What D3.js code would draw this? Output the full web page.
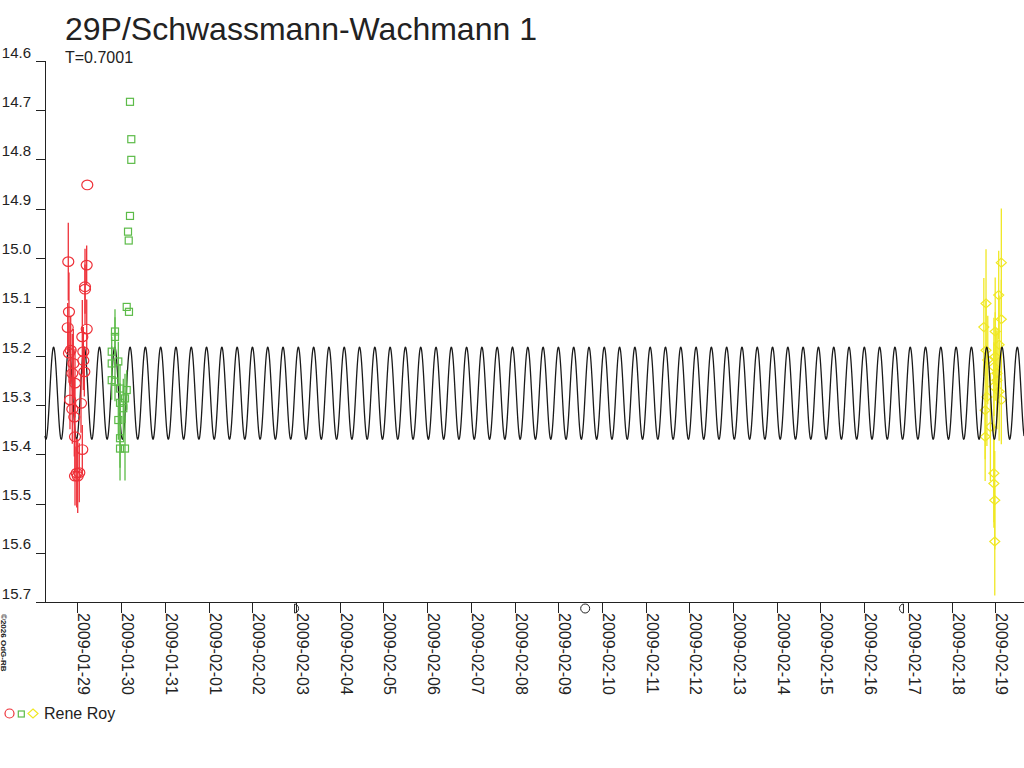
<!DOCTYPE html>
<html>
<head>
<meta charset="utf-8">
<script src="https://cdn.jsdelivr.net/npm/d3@7"></script>
<style>
  body { margin: 0; background: #fff; }
  svg { display: block; font-family: "Liberation Sans", Arial, sans-serif; }
</style>
</head>
<body>
<div class="chart"></div>
<script>
// observation times: days after 2009-01-29 00:00 UT
var redT   = [0.224, -0.211, 0.21, 0.172, 0.172, -0.195, -0.224, 0.211, 0.110, -0.156, -0.195, 0.133, 0.133, 0.156,
              -0.096, -0.119, -0.057, -0.172, -0.119, 0.080, -0.073, -0.057, 0.110, -0.018, 0.041, 0.005, -0.057]
var redMag = [14.852, 15.008, 15.015, 15.059, 15.064, 15.110, 15.142, 15.145, 15.161, 15.188, 15.194, 15.191, 15.209, 15.232,
              15.215, 15.235, 15.255, 15.289, 15.308, 15.296, 15.324, 15.364, 15.390, 15.438, 15.437, 15.444, 15.444]
var redErr = [0, 0.079, 0.04, 0.077, 0.05, 0.08, 0.05, 0.06, 0.075, 0.07, 0.06, 0.05, 0.06, 0.05,
              0.07, 0.08, 0.07, 0.06, 0.07, 0.06, 0.08, 0.07, 0.05, 0.07, 0.06, 0.075, 0.06]

var greenT   = [1.201, 1.231, 1.231, 1.201, 1.156, 1.172, 1.126, 1.178,
                0.858, 0.858, 0.783, 0.934, 0.783, 0.783, 0.858, 0.973, 1.126, 1.087, 0.973, 1.048, 0.934, 0.973, 0.973, 1.087]
var greenMag = [14.683, 14.759, 14.801, 14.915, 14.947, 14.965, 15.100, 15.110,
                15.150, 15.161, 15.191, 15.211, 15.215, 15.249, 15.252, 15.266, 15.269, 15.286, 15.295, 15.306, 15.330, 15.367, 15.388, 15.388]
var greenErr = [0, 0, 0, 0, 0, 0, 0, 0,
                0.045, 0.04, 0.03, 0.04, 0.035, 0.04, 0.04, 0.05, 0.04, 0.05, 0.04, 0.06, 0.04, 0.06, 0.065, 0.065]

var yellowT   = [21.14, 21.08, 20.79, 21.14, 20.74, 21.00, 20.79, 21.00, 20.97, 21.04, 21.09, 20.83,
                 21.04, 20.97, 21.09, 20.81, 21.14, 20.77, 20.89, 20.77, 20.97, 20.97, 20.99, 20.99]
var yellowMag = [15.010, 15.076, 15.093, 15.125, 15.141, 15.150, 15.188, 15.201, 15.222, 15.235, 15.177, 15.208,
                 15.249, 15.262, 15.272, 15.283, 15.289, 15.310, 15.344, 15.364, 15.438, 15.459, 15.493, 15.577]
var yellowErr = [0.11, 0.09, 0.11, 0.08, 0.10, 0.11, 0.10, 0.09, 0.10, 0.09, 0.10, 0.09,
                 0.10, 0.09, 0.10, 0.10, 0.09, 0.10, 0.11, 0.09, 0.10, 0.09, 0.10, 0.11]

// moon phases
var moonDates = ["2009-02-02T23:13Z", "2009-02-09T14:49Z", "2009-02-16T21:37Z"]
var moonKinds = ["first", "full", "last"]

var yTicks = [14.6, 14.7, 14.8, 14.9, 15.0, 15.1, 15.2, 15.3, 15.4, 15.5, 15.6, 15.7]

// lightcurve model
var period = 0.7001        // days, double-peaked
var waveMean = 15.2755, waveAmp = 0.0935, waveEpoch = 7.854

var width = 1024, height = 768
var ink = "#222"
var base = Date.UTC(2009, 0, 29)
var toDate = t => new Date(base + t * 864e5)

var x = d3.scaleUtc()
  .domain([toDate(-0.7437), toDate(21.659)])
  .range([45, 1024])
var y = d3.scaleLinear()
  .domain([14.6, 15.7])
  .range([61, 602])

var svg = d3.select(".chart").append("svg")
  .attr("width", width)
  .attr("height", height)

// title
svg.append("text").attr("x", 65).attr("y", 39.5)
  .style("font-size", "32px").attr("fill", ink)
  .text("29P/Schwassmann-Wachmann 1")
svg.append("text").attr("x", 65).attr("y", 63)
  .style("font-size", "16px").attr("fill", ink)
  .text("T=" + period.toFixed(4))

// Y axis
svg.append("g")
  .attr("transform", "translate(45,0)")
  .call(d3.axisLeft(y).tickValues(yTicks).tickSize(9).tickFormat(d3.format(".1f")))
  .call(g => g.select(".domain").remove())
  .call(g => g.selectAll("line").attr("stroke", ink).attr("shape-rendering", "crispEdges"))
  .selectAll("text")
    .attr("x", -14).attr("dy", -4)
    .attr("fill", ink)
    .style("font-size", "15px")
    .attr("font-family", "Liberation Sans, Arial, sans-serif")

// X axis
svg.append("g")
  .attr("transform", "translate(0,602)")
  .call(d3.axisBottom(x).ticks(d3.utcDay.every(1)).tickSize(11).tickFormat(d3.utcFormat("%Y-%m-%d")))
  .call(g => g.select(".domain").remove())
  .call(g => g.selectAll("line").attr("stroke", ink).attr("shape-rendering", "crispEdges"))
  .selectAll("text")
    .attr("x", 0).attr("y", 0).attr("dy", 0)
    .attr("transform", "translate(0.5,11) rotate(90)")
    .style("text-anchor", "start")
    .attr("fill", ink)
    .style("font-size", "16px")
    .attr("font-family", "Liberation Sans, Arial, sans-serif")

svg.append("line").attr("x1", 45).attr("x2", 45).attr("y1", y(14.6)).attr("y2", y(15.7))
  .attr("stroke", ink).attr("shape-rendering", "crispEdges")
svg.append("line").attr("x1", 45).attr("x2", 1024).attr("y1", y(15.7)).attr("y2", y(15.7))
  .attr("stroke", ink).attr("shape-rendering", "crispEdges")

// copyright
svg.append("text")
  .attr("transform", "translate(1,614) rotate(90)")
  .style("font-size", "8px").style("font-weight", "bold").attr("fill", ink)
  .text("\u00a92026 OdG-RB")

// moon phases
moonDates.forEach(function(d, i) {
  var mx = x(new Date(d)), my = 608.5
  if (moonKinds[i] == "full") {
    svg.append("circle").attr("cx", mx).attr("cy", my).attr("r", 4.5)
      .attr("fill", "none").attr("stroke", ink)
  } else {
    var sweep = moonKinds[i] == "first" ? 1 : 0
    svg.append("path")
      .attr("d", `M${mx},${my - 4.5} A4,4.5 0 0 ${sweep} ${mx},${my + 4.5} Z`)
      .attr("fill", "none").attr("stroke", ink)
  }
})

function errBars(ts, ms, es, color) {
  svg.append("g").selectAll("line")
    .data(ts.map((t, i) => ({t: t, m: ms[i], e: es[i]})).filter(d => d.e > 0))
    .join("line")
      .attr("x1", d => x(toDate(d.t))).attr("x2", d => x(toDate(d.t)))
      .attr("y1", d => y(d.m - d.e)).attr("y2", d => y(d.m + d.e))
      .attr("stroke", color).attr("stroke-width", 1.3)
}

// yellow set
var yellow = "#f0e824"
errBars(yellowT, yellowMag, yellowErr, yellow)
svg.append("g").selectAll("path")
  .data(yellowT.map((t, i) => ({t: t, m: yellowMag[i]})))
  .join("path")
    .attr("d", d => { var px = x(toDate(d.t)), py = y(d.m); return `M${px},${py - 4.5}L${px + 5},${py}L${px},${py + 4.5}L${px - 5},${py}Z` })
    .attr("fill", "none").attr("stroke", yellow).attr("stroke-width", 1.2)

// model curve
var t0 = -0.7437, t1 = 21.659, step = 0.004
var wave = d3.range(t0, t1 + step, step).map(t =>
  [x(toDate(t)), y(waveMean - waveAmp * Math.cos(2 * Math.PI * (t - waveEpoch) / (period / 2)))])
svg.append("path")
  .attr("d", d3.line()(wave))
  .attr("fill", "none").attr("stroke", "#1a1a1a").attr("stroke-width", 1.3)

// red set
var red = "#ee3038"
errBars(redT, redMag, redErr, red)
svg.append("g").selectAll("ellipse")
  .data(redT.map((t, i) => ({t: t, m: redMag[i]})))
  .join("ellipse")
    .attr("cx", d => x(toDate(d.t))).attr("cy", d => y(d.m))
    .attr("rx", 5.5).attr("ry", 4.8)
    .attr("fill", "none").attr("stroke", red).attr("stroke-width", 1.2)

// green set
var green = "#5cbb48"
errBars(greenT, greenMag, greenErr, green)
svg.append("g").selectAll("rect")
  .data(greenT.map((t, i) => ({t: t, m: greenMag[i]})))
  .join("rect")
    .attr("x", d => x(toDate(d.t)) - 3.5).attr("y", d => y(d.m) - 3.5)
    .attr("width", 7).attr("height", 7)
    .attr("fill", "none").attr("stroke", green).attr("stroke-width", 1.2)

// legend
svg.append("circle").attr("cx", 9.5).attr("cy", 713.5).attr("r", 4.5)
  .attr("fill", "none").attr("stroke", red).attr("stroke-width", 1.2)
svg.append("rect").attr("x", 18.3).attr("y", 711).attr("width", 6).attr("height", 6)
  .attr("fill", "none").attr("stroke", green).attr("stroke-width", 1.2)
svg.append("path").attr("d", "M33,709L38,713.5L33,718L28,713.5Z")
  .attr("fill", "none").attr("stroke", yellow).attr("stroke-width", 1.2)
svg.append("text").attr("x", 44).attr("y", 718.5)
  .style("font-size", "16px").attr("fill", ink)
  .text("Rene Roy")
</script>
</body>
</html>
